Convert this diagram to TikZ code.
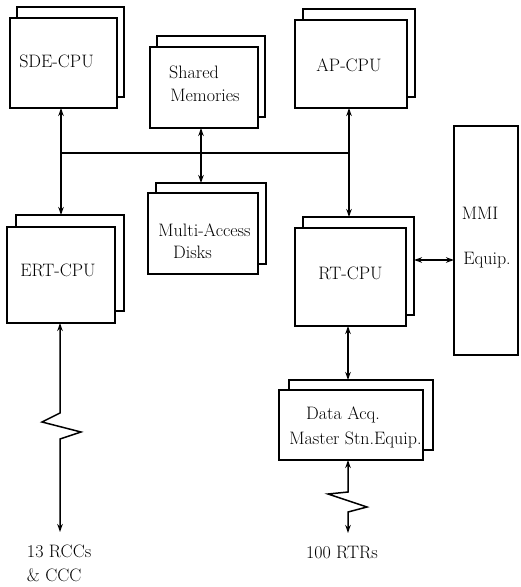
\documentclass[tikz,border=0pt]{standalone}
\usetikzlibrary{arrows.meta}
\begin{document}
\begin{tikzpicture}[x=1pt,y=-1pt,
  every node/.style={inner sep=0pt, outer sep=0pt},
  card/.style={draw, line width=1.7pt, fill=white},
  txt/.style={font=\fontsize{18}{22}\selectfont, anchor=base},
  link/.style={line width=1.5pt, {Stealth[length=8pt,width=5.5pt]}-{Stealth[length=8pt,width=5.5pt]}},
  bus/.style={line width=1.2pt}]
\useasboundingbox (0,0) rectangle (520,587);

% stacked (duplicated) unit: name, centre x, centre y, width, height, back dx, back dy
\newcommand\stackedunit[7]{%
  \node[card, minimum width=#4pt, minimum height=#5pt] (#1b) at ({#2+#6},{#3+#7}) {};
  \node[card, minimum width=#4pt, minimum height=#5pt] (#1) at (#2,#3) {};}

\stackedunit{sde}{63.5}{63}{107}{90}{7}{-11}
\stackedunit{sm}{204}{87.5}{108}{81}{7}{-11}
\stackedunit{ap}{351}{64}{112}{88}{8}{-11}
\stackedunit{mad}{203}{233.5}{110}{81}{8}{-10}
\stackedunit{ert}{61}{275}{108}{96}{9}{-12}
\stackedunit{rt}{350.5}{277}{111}{98}{8}{-11}
\stackedunit{daq}{351}{425}{144}{70}{10}{-10}
\node[card, minimum width=64pt, minimum height=229pt] (mmi) at (486,240.5) {};

% labels
\node[txt] (tsde) at (56.5,67) {SDE-CPU};
\node[txt] (tsm1) at (194,78) {Shared};
\node[txt] (tsm2) at (205,101) {Memories};
\node[txt] (tap) at (349,71) {AP-CPU};
\node[txt] (tmad1) at (204.5,236) {Multi-Access};
\node[txt] (tmad2) at (192.5,258) {Disks};
\node[txt] (tert) at (58,276) {ERT-CPU};
\node[txt] (trt) at (350.5,279) {RT-CPU};
\node[txt] (tdaq1) at (343,419) {Data Acq.};
\node[txt] (tdaq2) at (355.5,444) {Master Stn.Equip.};
\node[txt] (tmmi1) at (480,219) {MMI};
\node[txt] (tmmi2) at (487,264) {Equip.};
\node[txt, anchor=base west] (rcc1) at (27,557) {13 RCCs};
\node[txt, anchor=base west] (rcc2) at (27,581) {\& CCC};
\node[txt, anchor=base west] (rtr) at (306,558) {100 RTRs};

% bus and connectors
\coordinate (busL) at (61,153);
\coordinate (busR) at (349,153);
\coordinate (smx) at (201,153);
\coordinate (mmiy) at (0,260);
\coordinate (daqx) at (348,0);
\draw[bus] (busL) -- (busR);
\draw[link] (sde.south -| busL) -- (ertb.north -| busL);
\draw[link] (ap.south -| busR) -- (rtb.north -| busR);
\draw[link] (sm.south -| smx) -- (madb.north -| smx);
\fill (smx) circle (1.8pt);
\draw[link] (rtb.east |- mmiy) -- (mmi.west |- mmiy);
\draw[link] (rt.south -| daqx) -- (daqb.north -| daqx);

% radio links with break symbol
\coordinate (z1) at (60,413);
\coordinate (z2) at (42,422);
\coordinate (z3) at (81,432);
\coordinate (z4) at (60,439);
\coordinate (rccend) at (60,532);
\draw[link] (ert.south -| z1) -- (z1) -- (z2) -- (z3) -- (z4) -- (rccend);

\coordinate (d1) at (348,492);
\coordinate (d2) at (328,494);
\coordinate (d3) at (367,507);
\coordinate (d4) at (348,512);
\coordinate (rtrend) at (348,533);
\draw[link] (daq.south -| d1) -- (d1) -- (d2) -- (d3) -- (d4) -- (rtrend);
\end{tikzpicture}
\end{document}
